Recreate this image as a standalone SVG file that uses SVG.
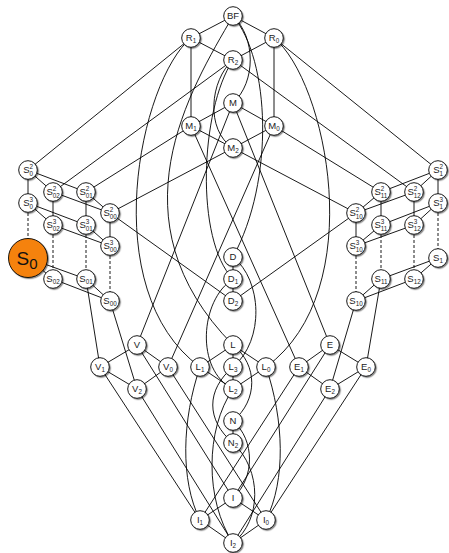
<svg xmlns="http://www.w3.org/2000/svg" width="449" height="553" viewBox="0 0 449 553">
<defs>
<filter id="sh" x="-40%" y="-40%" width="180%" height="180%">
<feDropShadow dx="1.2" dy="1.2" stdDeviation="0.6" flood-color="#000" flood-opacity="0.45"/>
</filter>
<style>
.e line,.e path{stroke:#000;stroke-width:0.9;fill:none}
.e .d{stroke-dasharray:3 2}
.n circle{fill:#fff;stroke:#000;stroke-width:0.9;filter:url(#sh)}
.n text{font-family:"Liberation Sans",Arial,sans-serif;font-size:9.5px;fill:#222}
.c{text-anchor:middle}
.s{font-size:6.3px}
.n text.m{font-size:6.3px}
#S0 circle{fill:#f5820f}
#S0 text{font-size:19px;fill:#111}
</style>
</defs>
<g class="e" id="edges">
<!-- top block -->
<line x1="233" y1="16" x2="191" y2="38"/>
<line x1="233" y1="16" x2="274" y2="38"/>
<line x1="191" y1="38" x2="233" y2="60"/>
<line x1="274" y1="38" x2="233" y2="60"/>
<line x1="191" y1="38" x2="191" y2="126"/>
<line x1="274" y1="38" x2="274" y2="126"/>
<line x1="233" y1="103" x2="191" y2="126"/>
<line x1="233" y1="103" x2="274" y2="126"/>
<line x1="191" y1="126" x2="233" y2="148"/>
<line x1="274" y1="126" x2="233" y2="148"/>
<line x1="191" y1="38" x2="28" y2="170"/>
<line x1="274" y1="38" x2="438" y2="170"/>
<line x1="233" y1="60" x2="53" y2="192"/>
<line x1="233" y1="60" x2="414" y2="192"/>
<line x1="191" y1="126" x2="86" y2="192"/>
<line x1="274" y1="126" x2="381" y2="192"/>
<line x1="233" y1="148" x2="110" y2="213"/>
<line x1="233" y1="148" x2="356" y2="213"/>
<line x1="233" y1="103" x2="137" y2="345"/>
<line x1="233" y1="103" x2="330" y2="345"/>
<line x1="274" y1="126" x2="168" y2="367"/>
<line x1="191" y1="126" x2="299" y2="367"/>
<!-- left separating block -->
<line x1="28" y1="170" x2="53" y2="192"/>
<line x1="28" y1="170" x2="86" y2="192"/>
<line x1="53" y1="192" x2="110" y2="213"/>
<line x1="86" y1="192" x2="110" y2="213"/>
<line x1="28" y1="170" x2="28" y2="203"/>
<line x1="53" y1="192" x2="53" y2="225"/>
<line x1="86" y1="192" x2="86" y2="225"/>
<line x1="110" y1="213" x2="110" y2="246"/>
<line x1="28" y1="203" x2="53" y2="225"/>
<line x1="28" y1="203" x2="86" y2="225"/>
<line x1="53" y1="225" x2="110" y2="246"/>
<line x1="86" y1="225" x2="110" y2="246"/>
<line class="d" x1="28" y1="203" x2="28" y2="258"/>
<line class="d" x1="53" y1="225" x2="53" y2="279"/>
<line class="d" x1="86" y1="225" x2="86" y2="279"/>
<line class="d" x1="110" y1="246" x2="110" y2="301"/>
<line x1="28" y1="258" x2="53" y2="279"/>
<line x1="28" y1="258" x2="86" y2="279"/>
<line x1="53" y1="279" x2="110" y2="301"/>
<line x1="86" y1="279" x2="110" y2="301"/>
<!-- right separating block -->
<line x1="438" y1="170" x2="414" y2="192"/>
<line x1="438" y1="170" x2="381" y2="192"/>
<line x1="414" y1="192" x2="356" y2="213"/>
<line x1="381" y1="192" x2="356" y2="213"/>
<line x1="438" y1="170" x2="438" y2="203"/>
<line x1="414" y1="192" x2="414" y2="225"/>
<line x1="381" y1="192" x2="381" y2="225"/>
<line x1="356" y1="213" x2="356" y2="246"/>
<line x1="438" y1="203" x2="414" y2="225"/>
<line x1="438" y1="203" x2="381" y2="225"/>
<line x1="414" y1="225" x2="356" y2="246"/>
<line x1="381" y1="225" x2="356" y2="246"/>
<line class="d" x1="438" y1="203" x2="438" y2="258"/>
<line class="d" x1="414" y1="225" x2="414" y2="279"/>
<line class="d" x1="381" y1="225" x2="381" y2="279"/>
<line class="d" x1="356" y1="246" x2="356" y2="301"/>
<line x1="438" y1="258" x2="414" y2="279"/>
<line x1="438" y1="258" x2="381" y2="279"/>
<line x1="414" y1="279" x2="356" y2="301"/>
<line x1="381" y1="279" x2="356" y2="301"/>
<!-- self-dual chain -->
<line x1="233" y1="257" x2="233" y2="279"/>
<line x1="233" y1="279" x2="233" y2="301"/>
<line x1="110" y1="213" x2="233" y2="301"/>
<line x1="356" y1="213" x2="233" y2="301"/>
<line x1="86" y1="279" x2="100" y2="367"/>
<line x1="110" y1="301" x2="137" y2="389"/>
<line x1="381" y1="279" x2="366" y2="367"/>
<line x1="356" y1="301" x2="330" y2="389"/>
<!-- V, E, L diamonds -->
<line x1="137" y1="345" x2="100" y2="367"/>
<line x1="137" y1="345" x2="168" y2="367"/>
<line x1="100" y1="367" x2="137" y2="389"/>
<line x1="168" y1="367" x2="137" y2="389"/>
<line x1="330" y1="345" x2="299" y2="367"/>
<line x1="330" y1="345" x2="366" y2="367"/>
<line x1="299" y1="367" x2="330" y2="389"/>
<line x1="366" y1="367" x2="330" y2="389"/>
<line x1="233" y1="345" x2="200" y2="367"/>
<line x1="233" y1="345" x2="266" y2="367"/>
<line x1="233" y1="345" x2="233" y2="367"/>
<line x1="233" y1="367" x2="233" y2="389"/>
<line x1="200" y1="367" x2="233" y2="389"/>
<line x1="266" y1="367" x2="233" y2="389"/>
<line x1="233" y1="421" x2="233" y2="443"/>
<!-- down to the bottom diamond -->
<line x1="137" y1="345" x2="233" y2="498"/>
<line x1="330" y1="345" x2="233" y2="498"/>
<line x1="100" y1="367" x2="200" y2="520"/>
<line x1="168" y1="367" x2="266" y2="520"/>
<line x1="137" y1="389" x2="233" y2="543"/>
<line x1="366" y1="367" x2="266" y2="520"/>
<line x1="299" y1="367" x2="200" y2="520"/>
<line x1="330" y1="389" x2="233" y2="543"/>
<line x1="233" y1="498" x2="200" y2="520"/>
<line x1="233" y1="498" x2="266" y2="520"/>
<line x1="200" y1="520" x2="233" y2="543"/>
<line x1="266" y1="520" x2="233" y2="543"/>
<!-- curved covers along the middle column -->
<path d="M233,16 C256,38 256,82 233,103"/>
<path d="M233,16 C270,60 275,180 233,257"/>
<path d="M233,16 C190,90 110,220 233,345"/>
<path d="M191,38 C140,80 95,290 200,367"/>
<path d="M274,38 C326,80 371,290 266,367"/>
<path d="M233,60 C210,80 205,130 233,148"/>
<path d="M233,60 C200,110 195,240 233,279"/>
<path d="M233,257 C262,280 265,340 233,367"/>
<path d="M233,279 C200,300 195,370 233,389"/>
<path d="M233,345 C258,365 258,400 233,421"/>
<path d="M233,367 C206,390 206,420 233,443"/>
<path d="M200,367 C182,420 180,480 200,520"/>
<path d="M266,367 C284,420 286,480 266,520"/>
<path d="M233,389 C205,430 205,500 233,543"/>
<path d="M233,421 C255,440 255,478 233,498"/>
<path d="M233,443 C262,470 262,520 233,543"/>
</g>
<g class="n">
<g id="BF"><circle cx="233" cy="16" r="9.3"/><text class="c" x="233" y="19.4">BF</text></g>
<g id="R1"><circle cx="191" cy="38" r="9.3"/><text class="c" x="191" y="41">R<tspan class="s" dy="2.2">1</tspan></text></g>
<g id="R0"><circle cx="274" cy="38" r="9.3"/><text class="c" x="274" y="41">R<tspan class="s" dy="2.2">0</tspan></text></g>
<g id="R2"><circle cx="233" cy="60" r="9.3"/><text class="c" x="233" y="63">R<tspan class="s" dy="2.2">2</tspan></text></g>
<g id="M"><circle cx="233" cy="103" r="9.3"/><text class="c" x="233" y="106.4">M</text></g>
<g id="M1"><circle cx="191" cy="126" r="9.3"/><text class="c" x="191" y="129">M<tspan class="s" dy="2.2">1</tspan></text></g>
<g id="M0"><circle cx="274" cy="126" r="9.3"/><text class="c" x="274" y="129">M<tspan class="s" dy="2.2">0</tspan></text></g>
<g id="M2"><circle cx="233" cy="148" r="9.3"/><text class="c" x="233" y="151">M<tspan class="s" dy="2.2">2</tspan></text></g>

<g id="S0-2"><circle cx="28" cy="170" r="9.3"/><text x="23.2" y="173.4">S</text><text class="m" x="29.5" y="169">2</text><text class="m" x="29.5" y="175.8">0</text></g>
<g id="S02-2"><circle cx="53" cy="192" r="9.3"/><text x="46.5" y="195.4">S</text><text class="m" x="52.8" y="191">2</text><text class="m" x="52.8" y="197.8">02</text></g>
<g id="S01-2"><circle cx="86" cy="192" r="9.3"/><text x="79.5" y="195.4">S</text><text class="m" x="85.8" y="191">2</text><text class="m" x="85.8" y="197.8">01</text></g>
<g id="S00-2"><circle cx="110" cy="213" r="9.3"/><text x="103.5" y="216.4">S</text><text class="m" x="109.8" y="212">2</text><text class="m" x="109.8" y="218.8">00</text></g>
<g id="S0-3"><circle cx="28" cy="203" r="9.3"/><text x="23.2" y="206.4">S</text><text class="m" x="29.5" y="202">3</text><text class="m" x="29.5" y="208.8">0</text></g>
<g id="S02-3"><circle cx="53" cy="225" r="9.3"/><text x="46.5" y="228.4">S</text><text class="m" x="52.8" y="224">3</text><text class="m" x="52.8" y="230.8">02</text></g>
<g id="S01-3"><circle cx="86" cy="225" r="9.3"/><text x="79.5" y="228.4">S</text><text class="m" x="85.8" y="224">3</text><text class="m" x="85.8" y="230.8">01</text></g>
<g id="S00-3"><circle cx="110" cy="246" r="9.3"/><text x="103.5" y="249.4">S</text><text class="m" x="109.8" y="245">3</text><text class="m" x="109.8" y="251.8">00</text></g>
<g id="S0"><circle cx="28" cy="258" r="19.5"/><text class="c" x="27" y="265">S<tspan dy="3.5" style="font-size:15px">0</tspan></text></g>
<g id="S02"><circle cx="53" cy="279" r="9.3"/><text class="c" x="53" y="282.2">S<tspan class="s" dy="2">02</tspan></text></g>
<g id="S01"><circle cx="86" cy="279" r="9.3"/><text class="c" x="86" y="282.2">S<tspan class="s" dy="2">01</tspan></text></g>
<g id="S00"><circle cx="110" cy="301" r="9.3"/><text class="c" x="110" y="304.2">S<tspan class="s" dy="2">00</tspan></text></g>

<g id="S1-2"><circle cx="438" cy="170" r="9.3"/><text x="433.2" y="173.4">S</text><text class="m" x="439.5" y="169">2</text><text class="m" x="439.5" y="175.8">1</text></g>
<g id="S12-2"><circle cx="414" cy="192" r="9.3"/><text x="407.5" y="195.4">S</text><text class="m" x="413.8" y="191">2</text><text class="m" x="413.8" y="197.8">12</text></g>
<g id="S11-2"><circle cx="381" cy="192" r="9.3"/><text x="374.5" y="195.4">S</text><text class="m" x="380.8" y="191">2</text><text class="m" x="380.8" y="197.8">11</text></g>
<g id="S10-2"><circle cx="356" cy="213" r="9.3"/><text x="349.5" y="216.4">S</text><text class="m" x="355.8" y="212">2</text><text class="m" x="355.8" y="218.8">10</text></g>
<g id="S1-3"><circle cx="438" cy="203" r="9.3"/><text x="433.2" y="206.4">S</text><text class="m" x="439.5" y="202">3</text><text class="m" x="439.5" y="208.8">1</text></g>
<g id="S12-3"><circle cx="414" cy="225" r="9.3"/><text x="407.5" y="228.4">S</text><text class="m" x="413.8" y="224">3</text><text class="m" x="413.8" y="230.8">12</text></g>
<g id="S11-3"><circle cx="381" cy="225" r="9.3"/><text x="374.5" y="228.4">S</text><text class="m" x="380.8" y="224">3</text><text class="m" x="380.8" y="230.8">11</text></g>
<g id="S10-3"><circle cx="356" cy="246" r="9.3"/><text x="349.5" y="249.4">S</text><text class="m" x="355.8" y="245">3</text><text class="m" x="355.8" y="251.8">10</text></g>
<g id="S1"><circle cx="438" cy="258" r="9.3"/><text class="c" x="438" y="261.2">S<tspan class="s" dy="2">1</tspan></text></g>
<g id="S12"><circle cx="414" cy="279" r="9.3"/><text class="c" x="414" y="282.2">S<tspan class="s" dy="2">12</tspan></text></g>
<g id="S11"><circle cx="381" cy="279" r="9.3"/><text class="c" x="381" y="282.2">S<tspan class="s" dy="2">11</tspan></text></g>
<g id="S10"><circle cx="356" cy="301" r="9.3"/><text class="c" x="356" y="304.2">S<tspan class="s" dy="2">10</tspan></text></g>

<g id="D"><circle cx="233" cy="257" r="9.3"/><text class="c" x="233" y="260.4">D</text></g>
<g id="D1"><circle cx="233" cy="279" r="9.3"/><text class="c" x="233" y="282">D<tspan class="s" dy="2.2">1</tspan></text></g>
<g id="D2"><circle cx="233" cy="301" r="9.3"/><text class="c" x="233" y="304">D<tspan class="s" dy="2.2">2</tspan></text></g>

<g id="V"><circle cx="137" cy="345" r="9.3"/><text class="c" x="137" y="348.4">V</text></g>
<g id="V1"><circle cx="100" cy="367" r="9.3"/><text class="c" x="100" y="370">V<tspan class="s" dy="2.2">1</tspan></text></g>
<g id="V0"><circle cx="168" cy="367" r="9.3"/><text class="c" x="168" y="370">V<tspan class="s" dy="2.2">0</tspan></text></g>
<g id="V2"><circle cx="137" cy="389" r="9.3"/><text class="c" x="137" y="392">V<tspan class="s" dy="2.2">2</tspan></text></g>
<g id="L"><circle cx="233" cy="345" r="9.3"/><text class="c" x="233" y="348.4">L</text></g>
<g id="L1"><circle cx="200" cy="367" r="9.3"/><text class="c" x="200" y="370">L<tspan class="s" dy="2.2">1</tspan></text></g>
<g id="L3"><circle cx="233" cy="367" r="9.3"/><text class="c" x="233" y="370">L<tspan class="s" dy="2.2">3</tspan></text></g>
<g id="L0"><circle cx="266" cy="367" r="9.3"/><text class="c" x="266" y="370">L<tspan class="s" dy="2.2">0</tspan></text></g>
<g id="L2"><circle cx="233" cy="389" r="9.3"/><text class="c" x="233" y="392">L<tspan class="s" dy="2.2">2</tspan></text></g>
<g id="E"><circle cx="330" cy="345" r="9.3"/><text class="c" x="330" y="348.4">E</text></g>
<g id="E1"><circle cx="299" cy="367" r="9.3"/><text class="c" x="299" y="370">E<tspan class="s" dy="2.2">1</tspan></text></g>
<g id="E0"><circle cx="366" cy="367" r="9.3"/><text class="c" x="366" y="370">E<tspan class="s" dy="2.2">0</tspan></text></g>
<g id="E2"><circle cx="330" cy="389" r="9.3"/><text class="c" x="330" y="392">E<tspan class="s" dy="2.2">2</tspan></text></g>
<g id="N"><circle cx="233" cy="421" r="9.3"/><text class="c" x="233" y="424.4">N</text></g>
<g id="N2"><circle cx="233" cy="443" r="9.3"/><text class="c" x="233" y="446">N<tspan class="s" dy="2.2">2</tspan></text></g>
<g id="I"><circle cx="233" cy="498" r="9.3"/><text class="c" x="233" y="501.4">I</text></g>
<g id="I1"><circle cx="200" cy="520" r="9.3"/><text class="c" x="200" y="523">I<tspan class="s" dy="2.2">1</tspan></text></g>
<g id="I0"><circle cx="266" cy="520" r="9.3"/><text class="c" x="266" y="523">I<tspan class="s" dy="2.2">0</tspan></text></g>
<g id="I2"><circle cx="233" cy="543" r="9.3"/><text class="c" x="233" y="546">I<tspan class="s" dy="2.2">2</tspan></text></g>
</g>
</svg>
